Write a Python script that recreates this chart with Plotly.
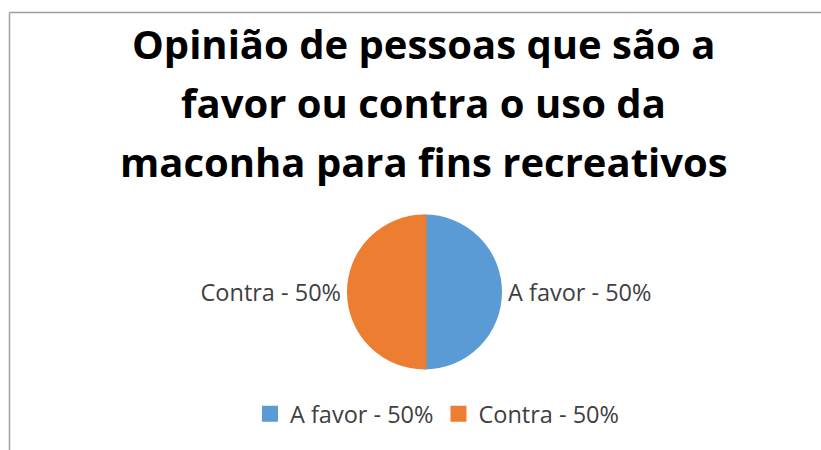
import plotly.graph_objects as go

labels = ["A favor - 50%", "Contra - 50%"]
values = [50, 50]
colors = ["#5B9BD5", "#ED7D31"]
title_lines = ["Opinião de pessoas que são a", "favor ou contra o uso da", "maconha para fins recreativos"]

W, H = 821, 450
cx, cy, r = 424.5, 292, 75.5

fig = go.Figure(go.Pie(
    labels=labels,
    values=values,
    marker=dict(colors=colors, line=dict(width=4, color=colors)),
    sort=False,
    direction="clockwise",
    rotation=0,
    textposition="outside",
    texttemplate="%{label}",
    textfont=dict(family="Open Sans", size=23.5, color="#404040"),
    hoverinfo="label+percent",
    domain=dict(x=[(cx - r) / W, (cx + r) / W], y=[1 - (cy + r) / H, 1 - (cy - r) / H]),
))

line_centers = [43, 102, 161]
annotations = [
    dict(text="<b>" + t + "</b>", xref="paper", yref="paper",
         x=424 / W, xanchor="center", y=1 - yc / H, yanchor="middle",
         showarrow=False, font=dict(family="Open Sans", size=40, color="#000000"))
    for t, yc in zip(title_lines, line_centers)
]

fig.update_layout(
    width=W, height=H,
    margin=dict(l=0, r=0, t=0, b=0),
    paper_bgcolor="white",
    plot_bgcolor="white",
    annotations=annotations,
    showlegend=True,
    legend=dict(
        orientation="h",
        x=437 / W, xanchor="center",
        y=1 - 414 / H, yanchor="middle",
        font=dict(family="Open Sans", size=23.5, color="#404040"),
    ),
    shapes=[
        dict(type="line", xref="paper", yref="paper",
             x0=9.5 / W, x1=1.01, y0=1 - 12.5 / H, y1=1 - 12.5 / H,
             line=dict(color="#a0a0a0", width=1.5)),
        dict(type="line", xref="paper", yref="paper",
             x0=9.5 / W, x1=9.5 / W, y0=-0.01, y1=1 - 12.5 / H,
             line=dict(color="#a0a0a0", width=1.5)),
    ],
)

fig.write_html("out.html")
